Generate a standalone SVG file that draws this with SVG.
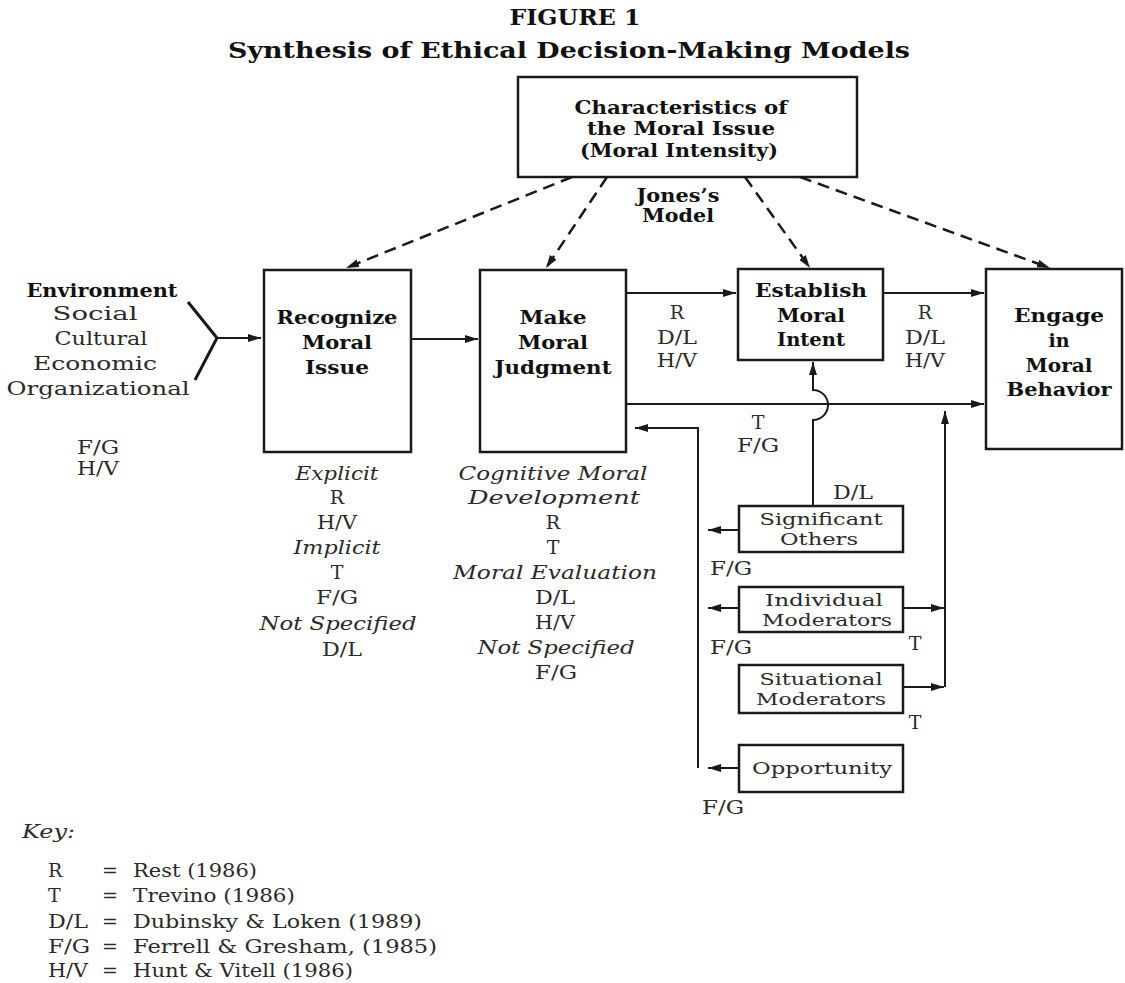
<svg xmlns="http://www.w3.org/2000/svg" width="1125" height="983" viewBox="0 0 1125 983">
<defs>
<marker id="ah" markerUnits="userSpaceOnUse" markerWidth="14" markerHeight="10" refX="13" refY="4" orient="auto">
<path d="M0,0 L13,4 L0,8 z" fill="#1a1a1a" stroke="none"/>
</marker>
<style>
.box{fill:#fff;stroke:#1a1a1a;stroke-width:2.5}
.ln{fill:none;stroke:#1a1a1a;stroke-width:2}
.y{fill:none;stroke:#1a1a1a;stroke-width:3}
.dash{fill:none;stroke:#1a1a1a;stroke-width:2.5;stroke-dasharray:12 7}
.b{font-family:"DejaVu Serif","Liberation Serif",serif;font-weight:bold;font-size:19px;fill:#111;text-anchor:middle}
.r{font-family:"DejaVu Serif","Liberation Serif",serif;font-size:19px;fill:#2a2a2a;text-anchor:middle}
.i{font-family:"DejaVu Serif","Liberation Serif",serif;font-style:italic;font-size:19px;fill:#2a2a2a;text-anchor:middle}
.s{font-family:"DejaVu Serif","Liberation Serif",serif;font-size:16.5px;fill:#2a2a2a;text-anchor:middle}
.t{font-family:"DejaVu Serif","Liberation Serif",serif;font-weight:bold;font-size:23px;fill:#111;text-anchor:middle}
.k{font-family:"DejaVu Serif","Liberation Serif",serif;font-size:19px;fill:#2a2a2a}
</style>
</defs>
<rect width="1125" height="983" fill="#fff"/>

<g id="title">
<text class="t" x="575" y="25" textLength="131" lengthAdjust="spacingAndGlyphs">FIGURE 1</text>
<text class="t" x="569" y="58" textLength="682" lengthAdjust="spacingAndGlyphs">Synthesis of Ethical Decision-Making Models</text>
</g>

<g id="connectors">
<path class="dash" d="M572,177 L346,268" marker-end="url(#ah)"/>
<path class="dash" d="M607,177 L546,268" marker-end="url(#ah)"/>
<path class="dash" d="M745,177 L810,268" marker-end="url(#ah)"/>
<path class="dash" d="M800,177 L1050,268" marker-end="url(#ah)"/>
<path class="y" d="M188,302 L217,338 L195,380"/>
<path class="ln" d="M217,338 L261,338" marker-end="url(#ah)"/>
<path class="ln" d="M411,339 L478,339" marker-end="url(#ah)"/>
<path class="ln" d="M626,293 L736,293" marker-end="url(#ah)"/>
<path class="ln" d="M883,293 L984,293" marker-end="url(#ah)"/>
<path class="ln" d="M626,404 L984,404" marker-end="url(#ah)"/>
<path class="ln" d="M813,506 L813,420 A15,15 0 0 0 813,390 L813,362" marker-end="url(#ah)"/>
<path class="ln" d="M698,768 L698,428 L635,428" marker-end="url(#ah)"/>
<path class="ln" d="M945,687 L945,411" marker-end="url(#ah)"/>
<path class="ln" d="M739,530 L708,530" marker-end="url(#ah)"/>
<path class="ln" d="M739,608 L708,608" marker-end="url(#ah)"/>
<path class="ln" d="M903,608 L944,608" marker-end="url(#ah)"/>
<path class="ln" d="M903,687 L944,687" marker-end="url(#ah)"/>
<path class="ln" d="M739,768 L708,768" marker-end="url(#ah)"/>
</g>

<g id="moral-issue">
<rect class="box" x="518" y="77" width="339" height="100"/>
<text class="b" x="681" y="114" textLength="213" lengthAdjust="spacingAndGlyphs">Characteristics of</text>
<text class="b" x="681" y="135" textLength="188" lengthAdjust="spacingAndGlyphs">the Moral Issue</text>
<text class="b" x="679" y="157" textLength="198" lengthAdjust="spacingAndGlyphs">(Moral Intensity)</text>
</g>

<g id="jones-label">
<text class="b" x="678" y="202" textLength="83" lengthAdjust="spacingAndGlyphs">Jones’s</text>
<text class="b" x="678" y="222" textLength="72" lengthAdjust="spacingAndGlyphs">Model</text>
</g>

<g id="environment">
<text class="b" x="102" y="297" textLength="151" lengthAdjust="spacingAndGlyphs">Environment</text>
<text class="r" x="95" y="320" textLength="85" lengthAdjust="spacingAndGlyphs">Social</text>
<text class="r" x="101" y="345" textLength="93" lengthAdjust="spacingAndGlyphs">Cultural</text>
<text class="r" x="95" y="370" textLength="124" lengthAdjust="spacingAndGlyphs">Economic</text>
<text class="r" x="98" y="395" textLength="183" lengthAdjust="spacingAndGlyphs">Organizational</text>
<text class="r" x="98" y="454" textLength="42" lengthAdjust="spacingAndGlyphs">F/G</text>
<text class="r" x="98" y="475" textLength="42" lengthAdjust="spacingAndGlyphs">H/V</text>
</g>

<g id="recognize">
<rect class="box" x="264" y="270" width="147" height="182"/>
<text class="b" x="337" y="324" textLength="121" lengthAdjust="spacingAndGlyphs">Recognize</text>
<text class="b" x="337" y="349" textLength="70" lengthAdjust="spacingAndGlyphs">Moral</text>
<text class="b" x="337" y="374" textLength="64" lengthAdjust="spacingAndGlyphs">Issue</text>
<text class="i" x="337" y="480" textLength="83" lengthAdjust="spacingAndGlyphs">Explicit</text>
<text class="r" x="337" y="504">R</text>
<text class="r" x="337" y="529" textLength="40" lengthAdjust="spacingAndGlyphs">H/V</text>
<text class="i" x="337" y="554" textLength="87" lengthAdjust="spacingAndGlyphs">Implicit</text>
<text class="r" x="337" y="579">T</text>
<text class="r" x="337" y="604" textLength="42" lengthAdjust="spacingAndGlyphs">F/G</text>
<text class="i" x="338" y="630" textLength="157" lengthAdjust="spacingAndGlyphs">Not Specified</text>
<text class="r" x="342" y="656" textLength="40" lengthAdjust="spacingAndGlyphs">D/L</text>
</g>

<g id="judgment">
<rect class="box" x="480" y="270" width="146" height="182"/>
<text class="b" x="553" y="324" textLength="67" lengthAdjust="spacingAndGlyphs">Make</text>
<text class="b" x="553" y="349" textLength="70" lengthAdjust="spacingAndGlyphs">Moral</text>
<text class="b" x="553" y="374" textLength="117" lengthAdjust="spacingAndGlyphs">Judgment</text>
<text class="i" x="553" y="480" textLength="189" lengthAdjust="spacingAndGlyphs">Cognitive Moral</text>
<text class="i" x="554" y="504" textLength="172" lengthAdjust="spacingAndGlyphs">Development</text>
<text class="r" x="553" y="529">R</text>
<text class="r" x="553" y="554">T</text>
<text class="i" x="555" y="579" textLength="204" lengthAdjust="spacingAndGlyphs">Moral Evaluation</text>
<text class="r" x="555" y="604" textLength="40" lengthAdjust="spacingAndGlyphs">D/L</text>
<text class="r" x="555" y="629" textLength="40" lengthAdjust="spacingAndGlyphs">H/V</text>
<text class="i" x="556" y="654" textLength="157" lengthAdjust="spacingAndGlyphs">Not Specified</text>
<text class="r" x="556" y="679" textLength="42" lengthAdjust="spacingAndGlyphs">F/G</text>
</g>

<g id="establish">
<rect class="box" x="738" y="269" width="145" height="91"/>
<text class="b" x="811" y="297" textLength="112" lengthAdjust="spacingAndGlyphs">Establish</text>
<text class="b" x="811" y="322" textLength="68" lengthAdjust="spacingAndGlyphs">Moral</text>
<text class="b" x="811" y="346" textLength="68" lengthAdjust="spacingAndGlyphs">Intent</text>
</g>

<g id="engage">
<rect class="box" x="986" y="269" width="136" height="180"/>
<text class="b" x="1059" y="322" textLength="90" lengthAdjust="spacingAndGlyphs">Engage</text>
<text class="b" x="1059" y="347">in</text>
<text class="b" x="1059" y="372" textLength="67" lengthAdjust="spacingAndGlyphs">Moral</text>
<text class="b" x="1059" y="396" textLength="105" lengthAdjust="spacingAndGlyphs">Behavior</text>
</g>

<g id="path-labels">
<text class="r" x="677" y="319">R</text>
<text class="r" x="677" y="344" textLength="40" lengthAdjust="spacingAndGlyphs">D/L</text>
<text class="r" x="677" y="367" textLength="40" lengthAdjust="spacingAndGlyphs">H/V</text>
<text class="r" x="925" y="319">R</text>
<text class="r" x="925" y="344" textLength="40" lengthAdjust="spacingAndGlyphs">D/L</text>
<text class="r" x="925" y="367" textLength="40" lengthAdjust="spacingAndGlyphs">H/V</text>
<text class="r" x="758" y="429">T</text>
<text class="r" x="758" y="452" textLength="42" lengthAdjust="spacingAndGlyphs">F/G</text>
<text class="r" x="853" y="499" textLength="40" lengthAdjust="spacingAndGlyphs">D/L</text>
<text class="r" x="731" y="575" textLength="42" lengthAdjust="spacingAndGlyphs">F/G</text>
<text class="r" x="731" y="654" textLength="42" lengthAdjust="spacingAndGlyphs">F/G</text>
<text class="r" x="915" y="650">T</text>
<text class="r" x="915" y="729">T</text>
<text class="r" x="723" y="814" textLength="42" lengthAdjust="spacingAndGlyphs">F/G</text>
</g>

<g id="significant-others">
<rect class="box" x="739" y="506" width="164" height="46"/>
<text class="s" x="821" y="525" textLength="123" lengthAdjust="spacingAndGlyphs">Significant</text>
<text class="s" x="819" y="545" textLength="78" lengthAdjust="spacingAndGlyphs">Others</text>
</g>

<g id="individual-moderators">
<rect class="box" x="739" y="587" width="164" height="45"/>
<text class="s" x="824" y="606" textLength="118" lengthAdjust="spacingAndGlyphs">Individual</text>
<text class="s" x="827" y="626" textLength="130" lengthAdjust="spacingAndGlyphs">Moderators</text>
</g>

<g id="situational-moderators">
<rect class="box" x="739" y="665" width="164" height="48"/>
<text class="s" x="821" y="685" textLength="123" lengthAdjust="spacingAndGlyphs">Situational</text>
<text class="s" x="821" y="705" textLength="130" lengthAdjust="spacingAndGlyphs">Moderators</text>
</g>

<g id="opportunity">
<rect class="box" x="739" y="745" width="164" height="47"/>
<text class="s" x="822" y="774" textLength="140" lengthAdjust="spacingAndGlyphs">Opportunity</text>
</g>

<g id="key">
<text class="k" x="22" y="838" font-style="italic" textLength="53" lengthAdjust="spacingAndGlyphs">Key:</text>
<text class="k" x="48" y="877">R</text>
<text class="k" x="102" y="877">=</text>
<text class="k" x="133" y="877" textLength="124" lengthAdjust="spacingAndGlyphs">Rest (1986)</text>
<text class="k" x="48" y="902">T</text>
<text class="k" x="102" y="902">=</text>
<text class="k" x="133" y="902" textLength="162" lengthAdjust="spacingAndGlyphs">Trevino (1986)</text>
<text class="k" x="48" y="928" textLength="40" lengthAdjust="spacingAndGlyphs">D/L</text>
<text class="k" x="102" y="928">=</text>
<text class="k" x="133" y="928" textLength="289" lengthAdjust="spacingAndGlyphs">Dubinsky &amp; Loken (1989)</text>
<text class="k" x="48" y="953" textLength="42" lengthAdjust="spacingAndGlyphs">F/G</text>
<text class="k" x="102" y="953">=</text>
<text class="k" x="133" y="953" textLength="304" lengthAdjust="spacingAndGlyphs">Ferrell &amp; Gresham, (1985)</text>
<text class="k" x="48" y="977" textLength="40" lengthAdjust="spacingAndGlyphs">H/V</text>
<text class="k" x="102" y="977">=</text>
<text class="k" x="133" y="977" textLength="220" lengthAdjust="spacingAndGlyphs">Hunt &amp; Vitell (1986)</text>
</g>
</svg>
